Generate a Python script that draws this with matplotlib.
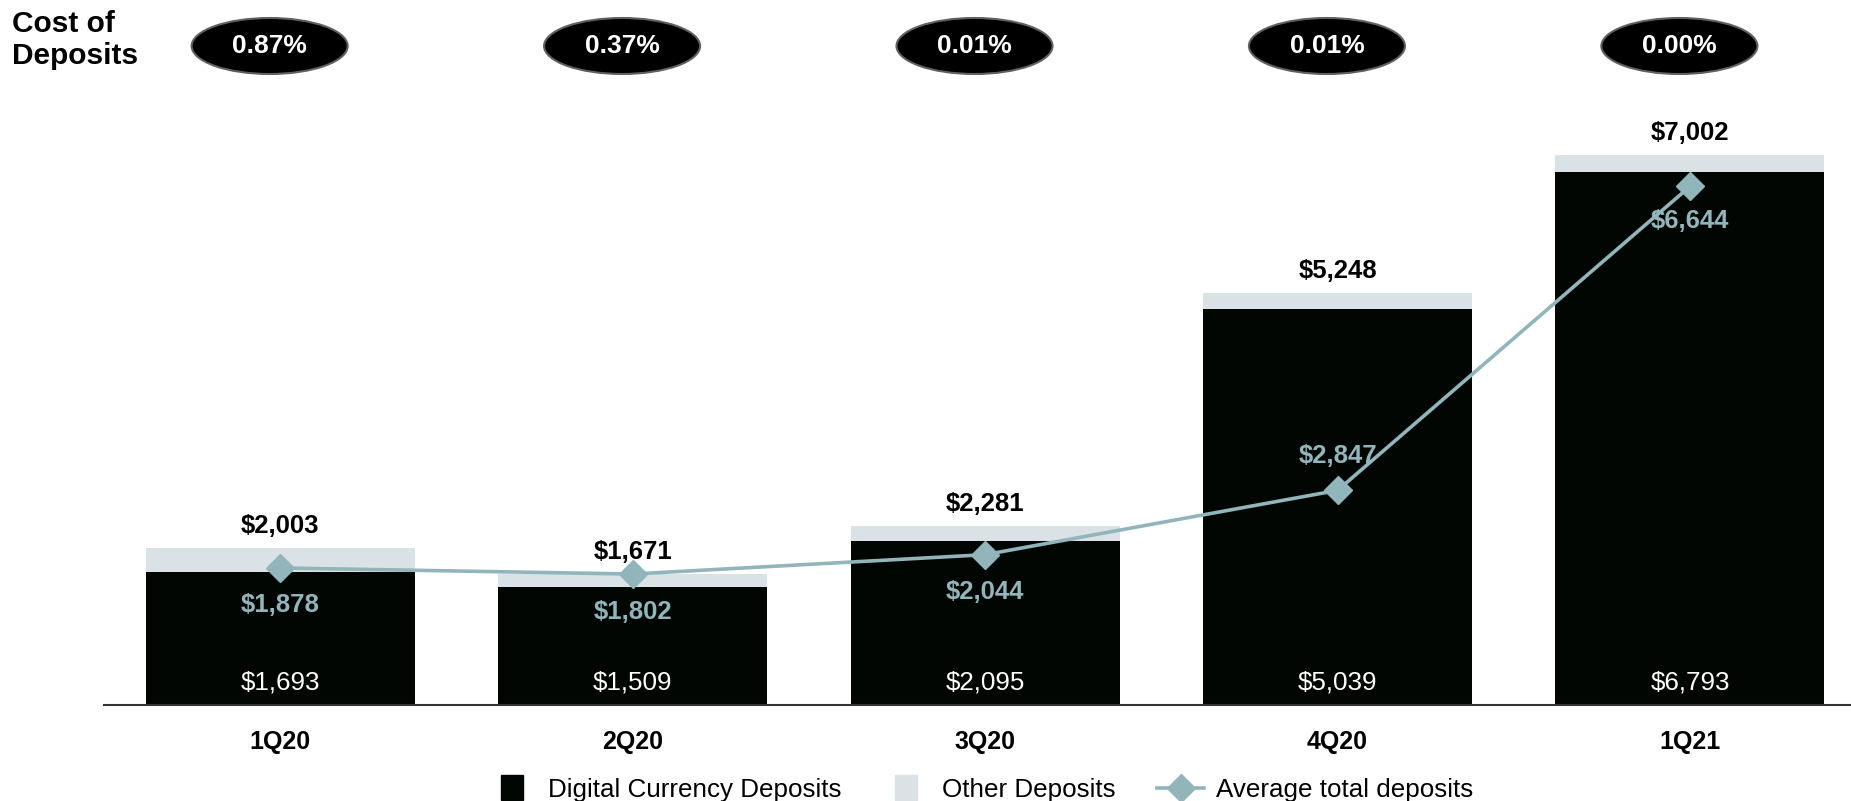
import matplotlib
matplotlib.use("Agg")
import matplotlib.pyplot as plt
import matplotlib.patches as mpatches
import matplotlib.transforms as mtransforms
from matplotlib.legend_handler import HandlerPatch
from matplotlib.lines import Line2D

plt.rcParams['font.family'] = ['Liberation Sans', 'DejaVu Sans']

quarters = ["1Q20", "2Q20", "3Q20", "4Q20", "1Q21"]
digital = [1693, 1509, 2095, 5039, 6793]
total = [2003, 1671, 2281, 5248, 7002]
avg_total = [1878, 1802, 2044, 2847, 6644]
cost_pct = ["0.87%", "0.37%", "0.01%", "0.01%", "0.00%"]

other = [t - d for t, d in zip(total, digital)]

BLACK = "#020602"
GRAY = "#dae2e5"
TEAL = "#91b5bb"

W, H = 1851, 801
fig = plt.figure(figsize=(W / 100, H / 100), dpi=100)
ax = fig.add_axes([104 / W, 96 / H, (W - 104) / W, 605 / H])
x = list(range(len(quarters)))

ax.bar(x, digital, width=0.763, color=BLACK, zorder=2)
ax.bar(x, other, bottom=digital, width=0.763, color=GRAY, zorder=2)
ax.set_xlim(-0.5, 4.457)
ax.set_ylim(0, 7707)

for xi, t, d in zip(x, total, digital):
    ax.annotate(f"${t:,}", (xi, t), xytext=(0, 16), textcoords="offset points",
                ha="center", va="center", fontsize=18.5, fontweight="bold", color="black")
    ax.annotate(f"${d:,}", (xi, 0), xytext=(0, 16.5), textcoords="offset points",
                ha="center", va="center", fontsize=18.7, color="white", zorder=5)

# average deposits sit on their own scale
ax2 = ax.twinx()
ax2.set_ylim(166, 7724)
ax2.plot(x, avg_total, color=TEAL, lw=2.6, marker="D", ms=14, zorder=3)
label_off = [-27, -27, -27, 25, -25]
for xi, v, off in zip(x, avg_total, label_off):
    ax2.annotate(f"${v:,}", (xi, v), xytext=(0, off), textcoords="offset points",
                 ha="center", va="center", fontsize=18.5, fontweight="bold", color=TEAL)
ax2.axis("off")

for s in ["top", "left", "right"]:
    ax.spines[s].set_visible(False)
ax.spines["bottom"].set_color("#333333")
ax.spines["bottom"].set_linewidth(1.5)
ax.set_yticks([])
ax.set_xticks(x)
ax.set_xticklabels(quarters, fontsize=18, fontweight="bold")
ax.tick_params(axis="x", length=0, pad=18)

# cost-of-deposits pills along the top
trans = mtransforms.blended_transform_factory(ax.transData, fig.transFigure)
for xi, pct in zip(x, cost_pct):
    e = mpatches.Ellipse((xi - 0.03, 1 - 46 / H), 156 / 352.4, 56 / H, transform=trans,
                         facecolor="black", edgecolor="#606060", lw=1.5, clip_on=False)
    fig.add_artist(e)
    fig.text(xi - 0.03, 1 - 46 / H, pct, transform=trans, ha="center", va="center",
             fontsize=19, fontweight="bold", color="white")

fig.text(12 / W, 1 - 10 / H, "Cost of\nDeposits", ha="left", va="top",
         fontsize=21.5, fontweight="bold", linespacing=1.2)


def square(legend, orig_handle, xdescent, ydescent, width, height, fontsize):
    w, h = 0.85 * fontsize, 0.98 * fontsize
    return mpatches.Rectangle((-xdescent + width - w - 0.5 * fontsize,
                               -ydescent + height / 2 - h / 2), w, h)


h1 = mpatches.Patch(color=BLACK, label="Digital Currency Deposits")
h2 = mpatches.Patch(color=GRAY, label="Other Deposits")
h3 = Line2D([], [], color=TEAL, lw=2.6, marker="D", ms=14, label="Average total deposits")
fig.legend(handles=[h1, h2, h3], loc="center", bbox_to_anchor=(0.530, 0.014), ncol=3,
           frameon=False, fontsize=18.7, handlelength=1.82, handletextpad=0.46,
           columnspacing=1.6, borderpad=0,
           handler_map={mpatches.Patch: HandlerPatch(patch_func=square)})

fig.savefig("out.png", dpi=100)
